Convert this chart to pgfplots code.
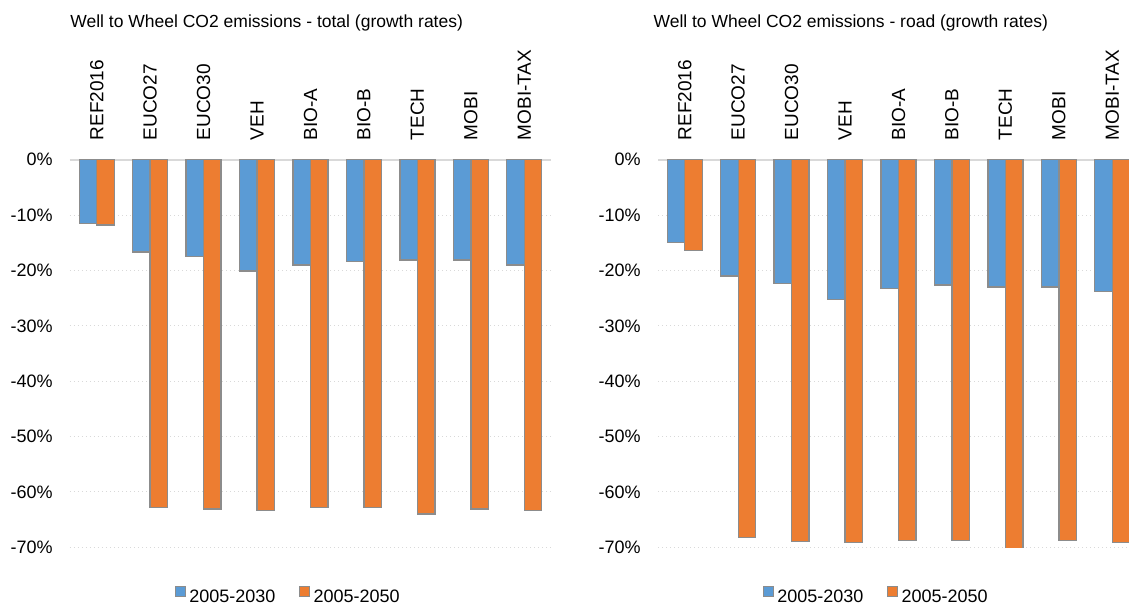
\documentclass[border=0pt]{standalone}
\usepackage{fontspec}
\setmainfont{Liberation Sans}
\usepackage{pgfplots}
\pgfplotsset{compat=1.18}
\definecolor{cblue}{HTML}{5B9BD5}
\definecolor{corange}{HTML}{ED7D31}
\definecolor{cedge}{HTML}{8C8C8C}
\definecolor{cgrid}{HTML}{D9D9D9}
\pgfplotsset{
 mystyle/.style={
  scale only axis, width=288.6pt, height=232.6pt,
  anchor=south west,
  ybar=0pt, bar width=10.5pt,
  ymin=-70, ymax=0, xmin=-0.5, xmax=8.5,
  xtick={0,...,8},
  xticklabels={REF2016,EUCO27,EUCO30,VEH,BIO-A,BIO-B,TECH,MOBI,MOBI-TAX},
  xticklabel pos=upper,
  xticklabel style={yshift=11.5pt, rotate=90, anchor=west, inner sep=0pt, font=\fontsize{11.4}{13}\selectfont},
  ytick={-70,-60,...,0},
  yticklabels={-70\%,-60\%,-50\%,-40\%,-30\%,-20\%,-10\%,0\%},
  yticklabel style={anchor=east, inner sep=0pt, xshift=-10.2pt},
  major tick length=0pt,
  axis line style={draw=none},
  ymajorgrids, grid style={cgrid, dotted, line width=0.6pt},
  extra y ticks={0}, extra y tick labels={},
  extra y tick style={grid style={cgrid, solid, line width=1.2pt}},
  font=\fontsize{10.8}{13}\selectfont,
  legend columns=2,
  legend style={at={(0.455,-0.128)}, anchor=center, draw=none, fill=none,
    /tikz/every even column/.append style={column sep=12pt},
    font=\fontsize{10.8}{13}\selectfont},
  legend image code/.code={\draw[#1] (0pt,0.5pt) rectangle (6pt,6.5pt);},
  every axis plot/.append style={draw=cedge, line width=0.8pt},
 }
}
\begin{document}
\begin{tikzpicture}
\begin{axis}[mystyle, at={(42pt,36.4pt)}]
\addplot[fill=cblue] coordinates {(0,-11.5) (1,-16.7) (2,-17.5) (3,-20.1) (4,-19.0) (5,-18.4) (6,-18.1) (7,-18.1) (8,-19.0)};
\addplot[fill=corange] coordinates {(0,-11.8) (1,-62.8) (2,-63.1) (3,-63.4) (4,-62.8) (5,-62.8) (6,-64.0) (7,-63.1) (8,-63.4)};
\legend{2005-2030,2005-2050}
\end{axis}
\begin{axis}[mystyle, at={(394.8pt,36.4pt)}]
\addplot[fill=cblue] coordinates {(0,-15.0) (1,-21.0) (2,-22.4) (3,-25.3) (4,-23.3) (5,-22.6) (6,-23.0) (7,-23.0) (8,-23.8)};
\addplot[fill=corange] coordinates {(0,-16.4) (1,-68.2) (2,-68.9) (3,-69.1) (4,-68.8) (5,-68.8) (6,-70.3) (7,-68.8) (8,-69.1)};
\legend{2005-2030,2005-2050}
\end{axis}
\node[font=\fontsize{10.5}{12}\selectfont, inner sep=0pt] at (160pt,350.8pt) {Well to Wheel CO2 emissions - total (growth rates)};
\node[font=\fontsize{10.5}{12}\selectfont, inner sep=0pt] at (510.5pt,350.8pt) {Well to Wheel CO2 emissions - road (growth rates)};
\pgfresetboundingbox
\path[use as bounding box] (0,0) rectangle (677.4pt,364.8pt);
\end{tikzpicture}
\end{document}
